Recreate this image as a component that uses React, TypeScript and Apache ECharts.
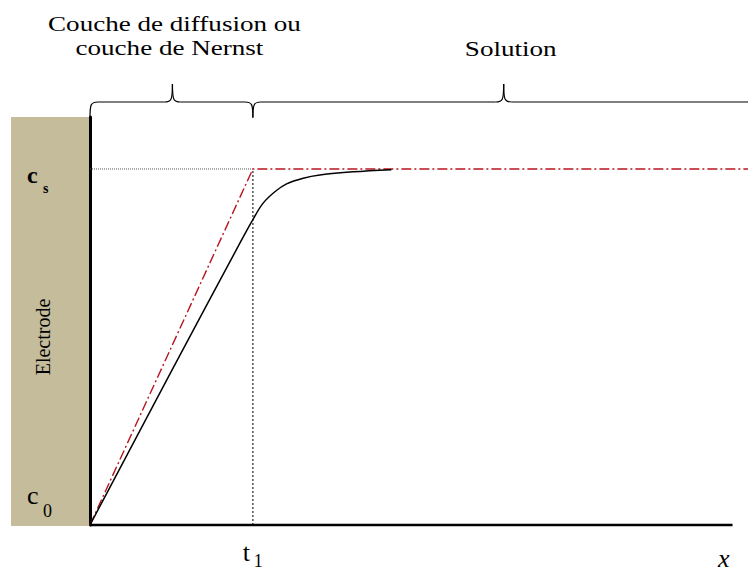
import React, { useEffect, useRef } from 'react';
import * as echarts from 'echarts';

// Concentration profile near an electrode (x in units of t1, c normalised so c0 = 0, cs = 1)
const X_MAX = 4.04;
const Y_MAX = 1.146;
const AXIS_END = 3.945;
const T1 = 1;
const CS = 1;
const BULK_MID = 2.54;

const profileX = [0, 0.5, 0.93, 1.0, 1.063, 1.135, 1.207, 1.309, 1.411, 1.615, 1.85];
const profileY = [0, 0.432, 0.8, 0.858, 0.904, 0.936, 0.958, 0.974, 0.983, 0.992, 0.998];

const linearX = [0, 1, 4.04];
const linearY = [0, 1, 1];

const layerLines = ['Couche de diffusion ou', 'couche de Nernst'];
const bulkLabel = 'Solution';
const electrodeLabel = 'Electrode';

const SERIF = "'Liberation Serif', 'Times New Roman', Times, serif";

function zip(xs: number[], ys: number[]) {
  return xs.map((x, i) => [x, ys[i]]);
}

function brace(x0: number, x1: number, xTip: number, yLine: number, yEnd: number, yTip: number, openRight: boolean) {
  const st = { stroke: '#000', lineWidth: 1.2, fill: 'none' };
  const r = 8;
  const els: any[] = [];
  els.push({ type: 'bezierCurve', shape: { x1: x0, y1: yEnd, cpx1: x0, cpy1: yLine + 2, cpx2: x0 + 1, cpy2: yLine, x2: x0 + r, y2: yLine }, style: st });
  els.push({ type: 'line', shape: { x1: x0 + r, y1: yLine, x2: xTip - r, y2: yLine }, style: st });
  els.push({ type: 'bezierCurve', shape: { x1: xTip - r, y1: yLine, cpx1: xTip - 1, cpy1: yLine, cpx2: xTip, cpy2: yLine - 2, x2: xTip, y2: yTip }, style: st });
  els.push({ type: 'bezierCurve', shape: { x1: xTip, y1: yTip, cpx1: xTip, cpy1: yLine - 2, cpx2: xTip + 1, cpy2: yLine, x2: xTip + r, y2: yLine }, style: st });
  if (openRight) {
    els.push({ type: 'line', shape: { x1: xTip + r, y1: yLine, x2: x1, y2: yLine }, style: st });
  } else {
    els.push({ type: 'line', shape: { x1: xTip + r, y1: yLine, x2: x1 - r, y2: yLine }, style: st });
    els.push({ type: 'bezierCurve', shape: { x1: x1 - r, y1: yLine, cpx1: x1 - 1, cpy1: yLine, cpx2: x1, cpy2: yLine + 2, x2: x1, y2: yEnd }, style: st });
  }
  return els;
}

function label(text: string, x: number, y: number, size: number, opts: any = {}) {
  const weight = opts.bold ? 'bold ' : '';
  const slant = opts.italic ? 'italic ' : '';
  return {
    type: 'text',
    x,
    y,
    scaleX: opts.scaleX || 1,
    style: {
      text,
      fill: '#000',
      font: `${slant}${weight}${size}px ${SERIF}`,
      textAlign: opts.align || 'left',
      textVerticalAlign: 'middle',
    },
  };
}

export default function App() {
  const ref = useRef<HTMLDivElement>(null);

  useEffect(() => {
    if (!ref.current) return;
    const chart = echarts.init(ref.current, null, { renderer: 'svg' });

    chart.setOption({
      animation: false,
      backgroundColor: '#fff',
      grid: { left: 90, right: 0, top: 117, bottom: 48 },
      xAxis: {
        type: 'value',
        min: 0,
        max: X_MAX,
        axisLine: { show: false },
        axisTick: { show: false },
        axisLabel: { show: false },
        splitLine: { show: false },
      },
      yAxis: {
        type: 'value',
        min: 0,
        max: Y_MAX,
        axisLine: { show: true, lineStyle: { color: '#000', width: 3 } },
        axisTick: { show: false },
        axisLabel: { show: false },
        splitLine: { show: false },
      },
      series: [
        {
          type: 'line',
          data: [[0, CS], [T1, CS]],
          symbol: 'none',
          silent: true,
          lineStyle: { color: '#555', width: 1, type: [1, 1] },
          z: 2,
        },
        {
          type: 'line',
          data: [[T1, 0], [T1, CS]],
          symbol: 'none',
          silent: true,
          lineStyle: { color: '#333', width: 1.3, type: [2, 2] },
          z: 2,
        },
        {
          type: 'line',
          data: zip(linearX, linearY),
          symbol: 'none',
          silent: true,
          clip: false,
          lineStyle: { color: '#b8141e', width: 1.4, type: [10, 3, 2, 3] },
          z: 3,
        },
        {
          type: 'line',
          data: zip(profileX, profileY),
          symbol: 'none',
          silent: true,
          smooth: 0.35,
          lineStyle: { color: '#000', width: 1.5 },
          z: 4,
        },
      ],
    });

    const px = (x: number, y: number) => chart.convertToPixel({ gridIndex: 0 }, [x, y]) as number[];
    const origin = px(0, 0);
    const top = px(0, Y_MAX);
    const csPt = px(0, CS);
    const t1Pt = px(T1, 0);
    const axisEnd = px(AXIS_END, 0);
    const farRight = px(X_MAX + 0.2, 0);

    const tip1 = (origin[0] + t1Pt[0]) / 2 + 1;
    const tip2 = px(BULK_MID, 0)[0];
    const braceY = top[1] - 15;

    const graphic: any[] = [
      // electrode block
      {
        type: 'rect',
        z: -1,
        shape: { x: 11, y: top[1], width: origin[0] - 12, height: origin[1] - top[1] + 1 },
        style: { fill: '#c4bc9b' },
      },
      {
        type: 'text',
        x: 43,
        y: (top[1] + origin[1]) / 2 + 16,
        rotation: Math.PI / 2,
        style: {
          text: electrodeLabel,
          fill: '#000',
          font: `20px ${SERIF}`,
          textAlign: 'center',
          textVerticalAlign: 'middle',
        },
      },
      // x axis line
      {
        type: 'line',
        z: 5,
        shape: { x1: origin[0], y1: origin[1], x2: axisEnd[0], y2: origin[1] },
        style: { stroke: '#000', lineWidth: 2.5 },
      },
      ...brace(origin[0], t1Pt[0], tip1, braceY, top[1], braceY - 18, false),
      ...brace(t1Pt[0], farRight[0], tip2, braceY, top[1] + 1, braceY - 18, true),
      // headings, slightly widened serif
      label(layerLines[0], tip1 + 2, 23, 22, { align: 'center', scaleX: 1.23 }),
      label(layerLines[1], tip1 - 3, 47, 22, { align: 'center', scaleX: 1.23 }),
      label(bulkLabel, tip2 + 7, 48, 22, { align: 'center', scaleX: 1.23 }),
      // axis symbols
      label('c', 27, csPt[1] + 6, 24, { bold: true }),
      label('s', 43, csPt[1] + 20, 14, { bold: true }),
      label('c', 27, origin[1] - 30, 26),
      label('0', 43, origin[1] - 14, 18),
      label('t', t1Pt[0] - 10, origin[1] + 27, 26),
      label('1', t1Pt[0] + 1, origin[1] + 36, 18),
      label('x', 718, origin[1] + 33, 26, { italic: true }),
    ];

    chart.setOption({ graphic });

    return () => chart.dispose();
  }, []);

  return (
    <div
      ref={ref}
      style={{ position: 'fixed', left: 0, top: 0, width: 748, height: 573, background: '#fff' }}
    />
  );
}
